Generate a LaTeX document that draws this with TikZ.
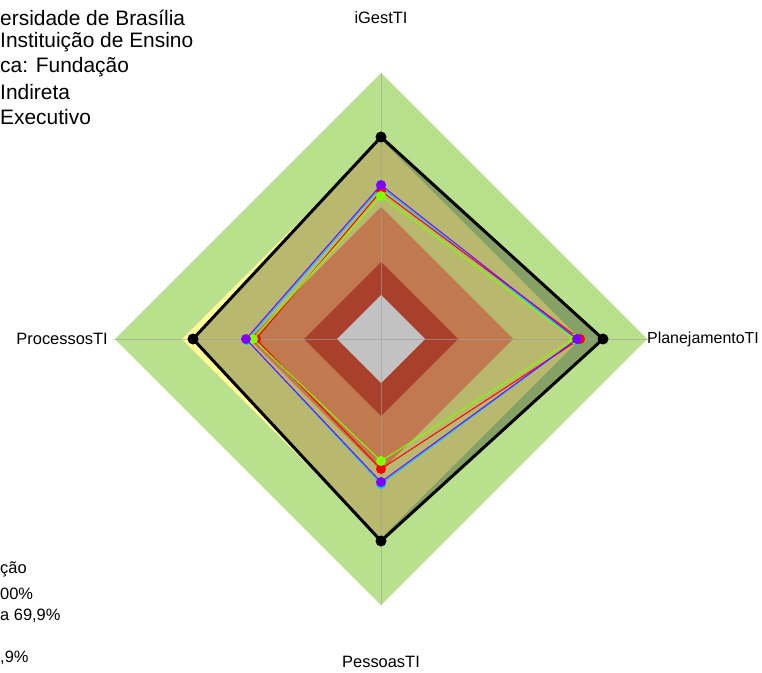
\documentclass[tikz,border=0pt]{standalone}
\usepackage{fontspec}
\setmainfont{Liberation Sans}
\definecolor{bandgreen}{RGB}{185,224,140}
\definecolor{bandyellow}{RGB}{255,255,153}
\definecolor{bandorange}{RGB}{193,121,80}
\definecolor{banddred}{RGB}{168,64,44}
\definecolor{bandgray}{RGB}{194,194,194}
\definecolor{overlay}{RGB}{40,35,20}
\definecolor{axisgray}{RGB}{160,160,160}
\definecolor{sred}{RGB}{255,0,0}
\definecolor{slime}{RGB}{128,255,0}
\definecolor{spurple}{RGB}{128,0,255}
\definecolor{scyan}{RGB}{0,200,255}
\begin{document}
\begin{tikzpicture}[x=1bp,y=-1bp,
  axislbl/.style={font=\fontsize{16.5}{20}\selectfont, inner sep=0pt},
  legtxt/.style={font=\fontsize{21}{25}\selectfont, inner sep=0pt, anchor=west},
  legtxtb/.style={font=\fontsize{16.5}{20}\selectfont, inner sep=0pt, anchor=west},
  axisline/.style={draw=axisgray, opacity=0.6, line width=1bp},
  serie/.style={line width=1bp, line join=miter},
  mk/.style={circle, inner sep=0pt, minimum size=10bp},
  blackmk/.style={circle, fill=black, inner sep=0pt, minimum size=11bp}]
\useasboundingbox (0,0) rectangle (762,673);
\coordinate (C) at (381,339);
% bands
\fill[bandgreen] (381,73) -- (647,339) -- (381,605) -- (115,339) -- cycle;
\fill[bandyellow] (381,140) -- (580,339) -- (381,538) -- (182,339) -- cycle;
% black series fill
\coordinate (k1) at (381,137);
\coordinate (k2) at (603,339);
\coordinate (k3) at (381,541);
\coordinate (k4) at (193,339);
\fill[overlay, opacity=0.28] (k1) -- (k2) -- (k3) -- (k4) -- cycle;
\fill[bandorange] (381,207) -- (513,339) -- (381,471) -- (249,339) -- cycle;
\fill[banddred] (381,262) -- (458,339) -- (381,416) -- (304,339) -- cycle;
\fill[bandgray] (381,295) -- (425,339) -- (381,383) -- (337,339) -- cycle;
% axes
\coordinate (aT) at (381,73);
\coordinate (aR) at (648,339);
\coordinate (aB) at (381,605);
\coordinate (aL) at (114,339);
\draw[axisline] (C) -- (aT);
\draw[axisline] (C) -- (aR);
\draw[axisline] (C) -- (aB);
\draw[axisline] (C) -- (aL);
% black series
\draw[line width=3bp, line join=miter] (k1) -- (k2) -- (k3) -- (k4) -- cycle;
\foreach \p in {k1,k2,k3,k4} \node[blackmk] (m\p) at (\p) {};
% cyan
\coordinate (c1) at (381,187);
\coordinate (c2) at (576,340);
\coordinate (c3) at (381,484);
\coordinate (c4) at (247,340);
\draw[serie, scyan] (c1) -- (c2) -- (c3) -- (c4) -- cycle;
\foreach \p in {c1,c2,c3,c4} \node[mk, fill=scyan] (m\p) at (\p) {};
% red
\coordinate (r1) at (381,191);
\coordinate (r2) at (580,339);
\coordinate (r3) at (381,469);
\coordinate (r4) at (256,339);
\draw[serie, sred] (r1) -- (r2) -- (r3) -- (r4) -- cycle;
\foreach \p in {r1,r2,r3,r4} \node[mk, fill=sred] (m\p) at (\p) {};
% lime
\coordinate (g1) at (381,196);
\coordinate (g2) at (574,339);
\coordinate (g3) at (381,461);
\coordinate (g4) at (253,339);
\draw[serie, slime] (g1) -- (g2) -- (g3) -- (g4) -- cycle;
\foreach \p in {g1,g2,g3,g4} \node[mk, fill=slime] (m\p) at (\p) {};
% purple
\coordinate (p1) at (381,185);
\coordinate (p2) at (577,339);
\coordinate (p3) at (381,482);
\coordinate (p4) at (246,339);
\draw[serie, spurple] (p1) -- (p2) -- (p3) -- (p4) -- cycle;
\foreach \p in {p1,p2,p3,p4} \node[mk, fill=spurple] (m\p) at (\p) {};
% axis labels
\node[axislbl] (lT) at (381,18) {iGestTI};
\node[axislbl, anchor=west, font=\fontsize{16}{20}\selectfont] (lR) at (647,339) {PlanejamentoTI};
\node[axislbl, anchor=east] (lL) at (108,339) {ProcessosTI};
\node[axislbl] (lB) at (381,662) {PessoasTI};
% legend top-left
\node[legtxt] (t1) at (0,18) {ersidade de Brasília};
\node[legtxt] (t2) at (0,42) {Instituição de Ensino};
\node[legtxt] (t3) at (0,67) {ca: Fundação};
\node[legtxt] (t4) at (0,92) {Indireta};
\node[legtxt] (t5) at (0,117) {Executivo};
% legend bottom-left
\node[legtxtb] (b1) at (0,569) {ção};
\node[legtxtb] (b2) at (0,594) {00\%};
\node[legtxtb] (b3) at (0,616) {a 69,9\%};
\node[legtxtb] (b4) at (0,658) {,9\%};
\end{tikzpicture}
\end{document}
